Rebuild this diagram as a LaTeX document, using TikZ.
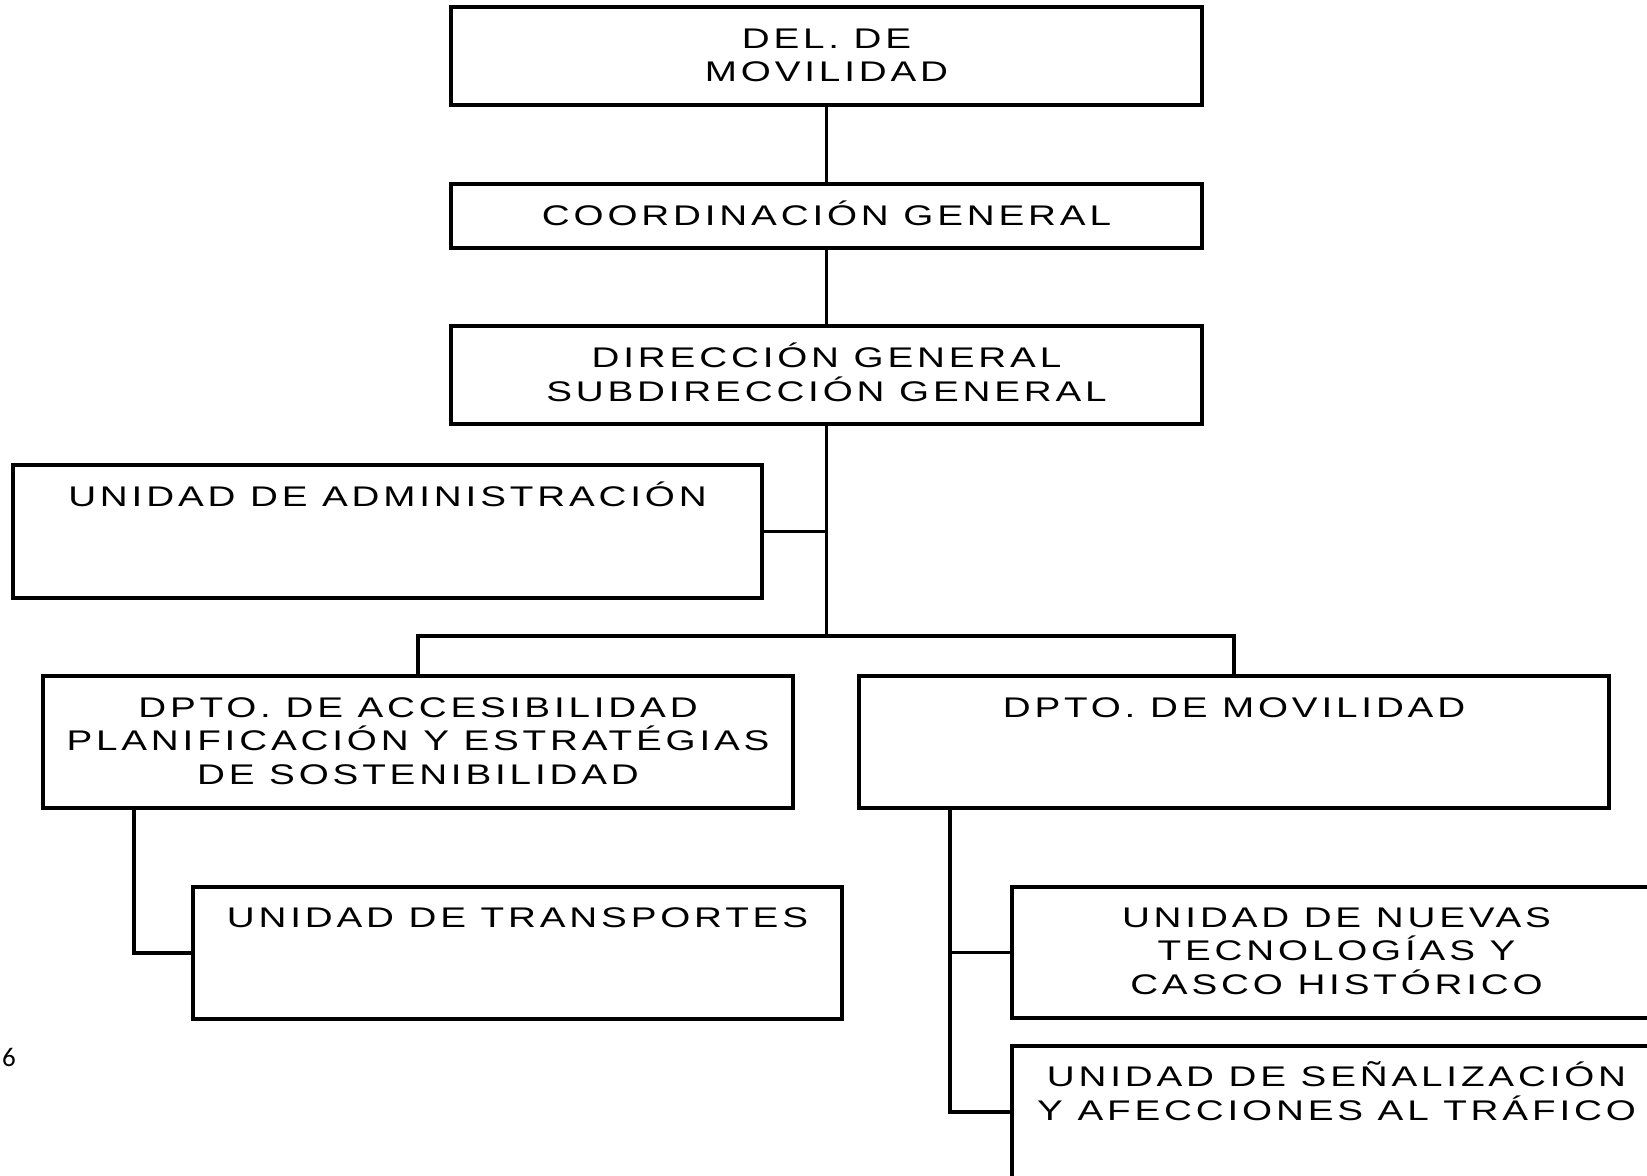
\documentclass[tikz,border=0pt]{standalone}
\usepackage{fontspec}
\setmainfont{Liberation Sans}[FakeStretch=1.36, LetterSpace=13.5]
\newfontfamily\numfont{Carlito}
\begin{document}
\begin{tikzpicture}[x=0.5pt,y=-0.5pt,
  box/.style={draw, line width=1.9pt, inner sep=0pt, rectangle},
  lbl/.style={anchor=base, inner sep=0pt, align=center,
    font=\fontsize{14.2}{16.75}\selectfont},
  conn/.style={line width=1.9pt}]
\useasboundingbox (0,0) rectangle (1647,1175);
\clip (0,0) rectangle (1647,1175);
% boxes
\node[box, minimum width=375.5pt, minimum height=49pt] (del) at (826.5,56) {};
\node[box, minimum width=375.5pt, minimum height=32pt] (coord) at (826.5,216) {};
\node[box, minimum width=375.5pt, minimum height=49pt] (dir) at (826.5,375) {};
\node[box, minimum width=374.5pt, minimum height=66.5pt] (admin) at (387.5,531.5) {};
\node[box, minimum width=375pt, minimum height=66pt] (deptA) at (418,742) {};
\node[box, minimum width=375pt, minimum height=66pt] (deptM) at (1234,742) {};
\node[box, minimum width=324.5pt, minimum height=66pt] (transp) at (517.5,953) {};
\node[box, minimum width=324.5pt, minimum height=65.5pt] (nuevas) at (1336.5,952.5) {};
\node[box, minimum width=324.5pt, minimum height=66pt] (senal) at (1336.5,1112) {};
% texts (anchor=base is the baseline of the last line)
\node[lbl] (delT) at (826.5,81.5) {DEL. DE\\MOVILIDAD};
\node[lbl] (coordT) at (826.5,225) {COORDINACIÓN GENERAL};
\node[lbl] (dirT) at (826.5,401) {DIRECCIÓN GENERAL\\SUBDIRECCIÓN GENERAL};
\node[lbl] (adminT) at (387.5,506) {UNIDAD DE ADMINISTRACIÓN};
\node[lbl] (deptAT) at (418,784) {DPTO. DE ACCESIBILIDAD\\PLANIFICACIÓN Y ESTRATÉGIAS\\DE SOSTENIBILIDAD};
\node[lbl] (deptMT) at (1234,717) {DPTO. DE MOVILIDAD};
\node[lbl] (transpT) at (517.5,927) {UNIDAD DE TRANSPORTES};
\node[lbl] (nuevasT) at (1336.5,994) {UNIDAD DE NUEVAS\\TECNOLOGÍAS Y\\CASCO HISTÓRICO};
\node[lbl] (senalT) at (1336.5,1120) {UNIDAD DE SEÑALIZACIÓN\\Y AFECCIONES AL TRÁFICO};
\node[font=\numfont\fontsize{13.5}{15}\selectfont, inner sep=0pt] (pg) at (9,1057) {6};
% connectors
\coordinate (bus) at (826.5,636);
\draw[conn] (del.south) -- (coord.north);
\draw[conn] (coord.south) -- (dir.north);
\draw[conn] (dir.south) -- (bus);
\draw[conn] (admin.east) -- (admin.east -| bus);
\draw[conn] (deptA.north) -- (deptA.north |- bus) -- (deptM.north |- bus) -- (deptM.north);
\draw[conn] ([xshift=46.5pt]deptA.south west) |- (transp.west);
\draw[conn] ([xshift=46.5pt]deptM.south west) |- (nuevas.west);
\draw[conn] ([xshift=46.5pt]deptM.south west) |- (senal.west);
\end{tikzpicture}
\end{document}
